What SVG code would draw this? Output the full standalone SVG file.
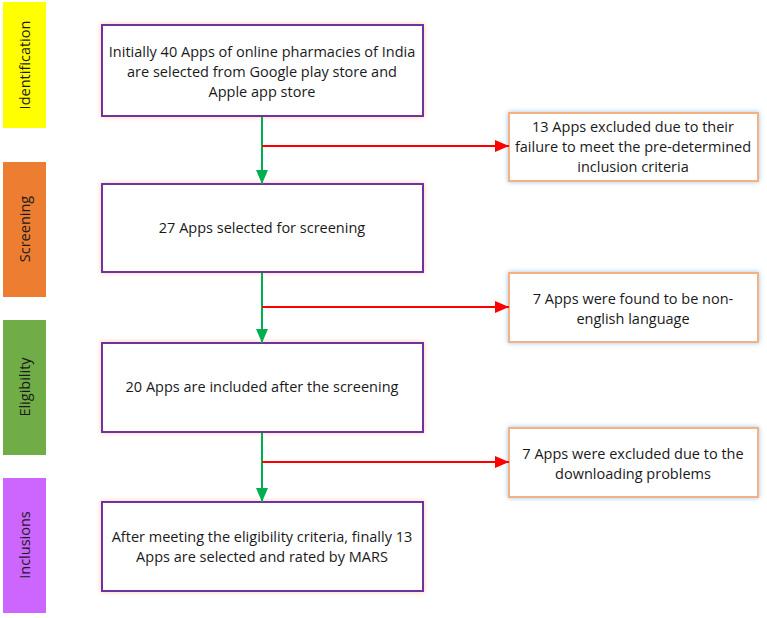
<svg xmlns="http://www.w3.org/2000/svg" width="767" height="618" viewBox="0 0 767 618">
<defs>
<filter id="glowO" x="-10%" y="-20%" width="120%" height="140%"><feDropShadow dx="0" dy="0" stdDeviation="2.5" flood-color="#F8CBAD" flood-opacity="1"/></filter>
<filter id="glowB" x="-10%" y="-20%" width="120%" height="140%"><feDropShadow dx="0" dy="0" stdDeviation="2.5" flood-color="#9DC3E6" flood-opacity="1"/></filter>
<marker id="ag" viewBox="0 0 14 12" refX="14" refY="6" markerWidth="14" markerHeight="12" markerUnits="userSpaceOnUse" orient="auto"><path d="M0,0 L14,6 L0,12 z" fill="#00B050"/></marker>
<marker id="ar" viewBox="0 0 14 12" refX="14" refY="6" markerWidth="14" markerHeight="12" markerUnits="userSpaceOnUse" orient="auto"><path d="M0,0 L14,6 L0,12 z" fill="#FF0000"/></marker>
</defs>
<style>
text{font-family:"Open Sans","Liberation Sans",sans-serif;font-size:14.5px;fill:#1a1a1a;text-anchor:middle}
.main{fill:#fff;stroke:#7030A0;stroke-width:2;filter:url(#glowO)}
.side{fill:#fff;stroke:#F4B183;stroke-width:2;filter:url(#glowB)}
.g{stroke:#00B050;stroke-width:2;fill:none}
.r{stroke:#FF0000;stroke-width:2;fill:none}
</style>
<rect width="767" height="618" fill="#fff"/>
<g id="stage-identification"><rect x="3" y="2" width="43" height="126" fill="#FFFF00"/><text transform="translate(30,65) rotate(-90)">Identification</text></g>
<g id="stage-screening"><rect x="3" y="162" width="43" height="135" fill="#ED7D31"/><text transform="translate(30,229) rotate(-90)">Screening</text></g>
<g id="stage-eligibility"><rect x="3" y="320" width="43" height="135" fill="#70AD47"/><text transform="translate(30,387) rotate(-90)">Eligibility</text></g>
<g id="stage-inclusions"><rect x="3" y="478" width="43" height="135" fill="#CC66FF"/><text transform="translate(30,545) rotate(-90)">Inclusions</text></g>

<g id="box1"><rect class="main" x="102" y="25" width="321" height="91"/>
<text x="262" y="57">Initially 40 Apps of online pharmacies of India</text>
<text x="262" y="77">are selected from Google play store and</text>
<text x="262" y="97">Apple app store</text></g>
<g id="box2"><rect class="main" x="102" y="184" width="321" height="88"/>
<text x="262" y="233">27 Apps selected for screening</text></g>
<g id="box3"><rect class="main" x="102" y="343" width="321" height="89"/>
<text x="262" y="392">20 Apps are included after the screening</text></g>
<g id="box4"><rect class="main" x="102" y="502" width="321" height="89"/>
<text x="262" y="542">After meeting the eligibility criteria, finally 13</text>
<text x="262" y="562">Apps are selected and rated by MARS</text></g>

<g id="exc1"><rect class="side" x="509" y="113" width="249" height="68"/>
<text x="633" y="132">13 Apps excluded due to their</text>
<text x="633" y="152">failure to meet the pre-determined</text>
<text x="633" y="172">inclusion criteria</text></g>
<g id="exc2"><rect class="side" x="509" y="273" width="249" height="69"/>
<text x="633" y="304">7 Apps were found to be non-</text>
<text x="633" y="324">english language</text></g>
<g id="exc3"><rect class="side" x="509" y="428" width="249" height="69"/>
<text x="633" y="459">7 Apps were excluded due to the</text>
<text x="633" y="479">downloading problems</text></g>

<g id="connectors">
<line class="g" x1="262" y1="117" x2="262" y2="184" marker-end="url(#ag)"/>
<line class="r" x1="262" y1="146" x2="509" y2="146" marker-end="url(#ar)"/>
<line class="g" x1="262" y1="273" x2="262" y2="343" marker-end="url(#ag)"/>
<line class="r" x1="262" y1="307" x2="509" y2="307" marker-end="url(#ar)"/>
<line class="g" x1="262" y1="433" x2="262" y2="502" marker-end="url(#ag)"/>
<line class="r" x1="262" y1="462" x2="509" y2="462" marker-end="url(#ar)"/>
</g>
</svg>
